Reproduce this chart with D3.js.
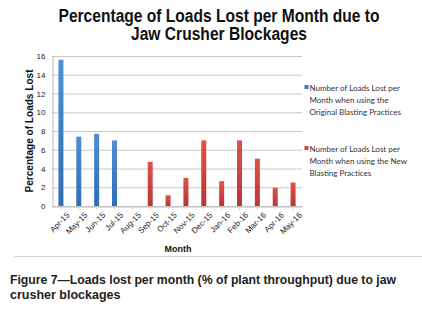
<!DOCTYPE html>
<html lang="en">
<head>
<meta charset="UTF-8" />
<title>loads lost per month</title>
<style>
  html, body { margin: 0; padding: 0; background: #fff; }
  svg { display: block; }
</style>
</head>
<body>
<div id="chart"></div>
<script src="https://cdn.jsdelivr.net/npm/d3@7"></script>
<script>
  // === Data === //
  var months = ["Apr-15", "May-15", "Jun-15", "Jul-15", "Aug-15", "Sep-15", "Oct-15",
                "Nov-15", "Dec-15", "Jan-16", "Feb-16", "Mar-16", "Apr-16", "May-16"];
  var originalValues = [15.6, 7.4, 7.7, 7.0, null, null, null, null, null, null, null, null, null, null];
  var newValues = [null, null, null, null, null, 4.7, 1.15, 3.0, 7.0, 2.65, 7.0, 5.05, 1.95, 2.5];
  var yTicks = [0, 2, 4, 6, 8, 10, 12, 14, 16];
  var seriesNames = [
    ["Number of Loads Lost per", "Month when using the", "Original Blasting Practices"],
    ["Number of Loads Lost per", "Month when using the New", "Blasting Practices"]
  ];

  var width = 422, height = 315;
  var plot = { left: 52, right: 302, top: 56, bottom: 206 };

  var svg = d3.select("#chart").append("svg")
    .attr("width", width).attr("height", height);

  var defs = svg.append("defs");
  function grad(id, c1, c2) {
    var g = defs.append("linearGradient").attr("id", id)
      .attr("x1", 0).attr("x2", 0).attr("y1", 0).attr("y2", 1);
    g.append("stop").attr("offset", "0%").attr("stop-color", c1);
    g.append("stop").attr("offset", "100%").attr("stop-color", c2);
  }
  grad("gBlue", "#4f8fd3", "#2f6cb4");
  grad("gRed", "#e2514b", "#b83732");

  var x = d3.scaleBand().domain(months).range([plot.left, plot.right]).paddingInner(0.72).paddingOuter(0.36);
  var y = d3.scaleLinear().domain([0, 16]).range([plot.bottom, plot.top]);

  // title
  var title = svg.append("g").attr("font-family", "'Liberation Sans Narrow', 'Liberation Sans', Arial, sans-serif")
    .attr("font-weight", "bold").attr("font-size", 18).attr("fill", "#111").attr("text-anchor", "middle");
  title.append("text").attr("x", 219).attr("y", 22)
    .attr("textLength", 321).attr("lengthAdjust", "spacingAndGlyphs")
    .text("Percentage of Loads Lost per Month due to");
  title.append("text").attr("x", 219).attr("y", 40)
    .attr("textLength", 176).attr("lengthAdjust", "spacingAndGlyphs")
    .text("Jaw Crusher Blockages");

  // gridlines
  svg.append("g").selectAll("line").data(yTicks).join("line")
    .attr("x1", plot.left).attr("x2", plot.right)
    .attr("y1", function(d) { return y(d) + 0.5; })
    .attr("y2", function(d) { return y(d) + 0.5; })
    .attr("stroke", "#c9c9c9").attr("stroke-width", 1);

  // y axis
  var yAxis = svg.append("g").attr("transform", "translate(" + (plot.left + 0.5) + ",0)")
    .call(d3.axisLeft(y).tickValues(yTicks).tickSize(0).tickPadding(7));
  yAxis.select(".domain").attr("stroke", "#bbb");
  yAxis.selectAll("text").attr("font-family", "'Liberation Sans Narrow', 'Liberation Sans', sans-serif")
    .attr("font-size", 8).attr("fill", "#222");

  // x axis
  var xAxis = svg.append("g").attr("transform", "translate(0," + (plot.bottom + 0.5) + ")")
    .call(d3.axisBottom(x).tickSize(3).tickSizeOuter(0));
  xAxis.select(".domain").attr("stroke", "#bbb");
  xAxis.selectAll(".tick line").attr("stroke", "#ccc");
  xAxis.selectAll("text")
    .attr("font-family", "'Liberation Sans Narrow', 'Liberation Sans', sans-serif")
    .attr("font-size", 8).attr("fill", "#222")
    .attr("text-anchor", "end")
    .attr("dy", "0.35em")
    .attr("transform", "translate(3,3) rotate(-45)");

  // bars
  function bars(values, fill) {
    svg.append("g").selectAll("rect")
      .data(months.map(function(m, i) { return { m: m, v: values[i] }; }).filter(function(d) { return d.v != null; }))
      .join("rect")
      .attr("x", function(d) { return x(d.m); })
      .attr("width", x.bandwidth())
      .attr("y", function(d) { return y(d.v); })
      .attr("height", function(d) { return y(0) - y(d.v); })
      .attr("fill", fill);
  }
  bars(originalValues, "url(#gBlue)");
  bars(newValues, "url(#gRed)");

  // axis titles
  svg.append("text")
    .attr("transform", "translate(33,131) rotate(-90)")
    .attr("text-anchor", "middle")
    .attr("font-family", "'Liberation Sans Narrow', 'Liberation Sans', sans-serif")
    .attr("font-weight", "bold").attr("font-size", 10.5).attr("fill", "#111")
    .attr("textLength", 123).attr("lengthAdjust", "spacingAndGlyphs")
    .text("Percentage of Loads Lost");
  svg.append("text")
    .attr("x", 178).attr("y", 252).attr("text-anchor", "middle")
    .attr("font-family", "'Liberation Sans Narrow', 'Liberation Sans', sans-serif")
    .attr("font-weight", "bold").attr("font-size", 9).attr("fill", "#111")
    .text("Month");

  // legend
  var legendY = [88, 149];
  var legendFill = ["#3d7dc4", "#d2433e"];
  seriesNames.forEach(function(lines, i) {
    var g = svg.append("g");
    g.append("rect").attr("x", 304.5).attr("y", legendY[i] - 3).attr("width", 4).attr("height", 4)
      .attr("fill", legendFill[i]);
    g.selectAll("text").data(lines).join("text")
      .attr("x", 309.5)
      .attr("y", function(d, j) { return legendY[i] + 2.5 + j * 12.3; })
      .attr("font-family", "Lato, 'Open Sans', sans-serif")
      .attr("font-size", 8).attr("fill", "#333")
      .text(function(d) { return d; });
  });

  // separator and caption
  svg.append("line").attr("x1", 14).attr("x2", 422).attr("y1", 256.5).attr("y2", 256.5)
    .attr("stroke", "#d4d4d4").attr("stroke-width", 1);
  var cap = svg.append("g").attr("font-family", "'Liberation Sans', Arial, sans-serif")
    .attr("font-weight", "bold").attr("font-size", 12.5).attr("fill", "#222");
  cap.append("text").attr("x", 10).attr("y", 284)
    .attr("textLength", 386).attr("lengthAdjust", "spacingAndGlyphs")
    .text("Figure 7\u2014Loads lost per month (% of plant throughput) due to jaw");
  cap.append("text").attr("x", 10).attr("y", 299).text("crusher blockages");
</script>
</body>
</html>
